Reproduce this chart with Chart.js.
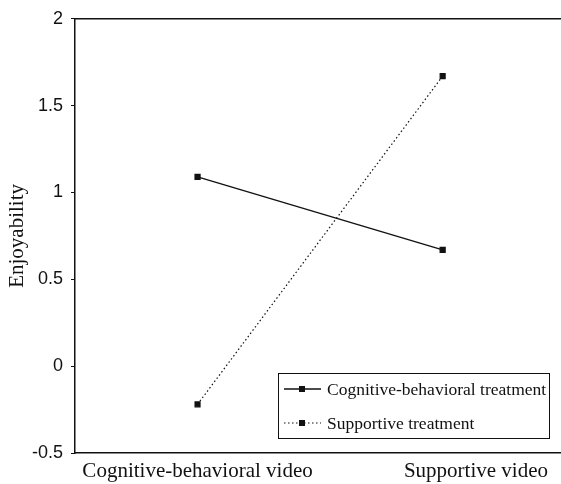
<!DOCTYPE html>
<html lang="en">
<head>
    <meta charset="UTF-8">
    <title>Enjoyability</title>
    <script src="https://cdn.jsdelivr.net/npm/chart.js"></script>
    <style>
        html, body { margin: 0; padding: 0; background: #fff; overflow: hidden; }
        .chart-box { width: 561px; height: 484px; overflow: hidden; }
    </style>
</head>
<body>
    <div class="chart-box">
        <!-- o canvas passa um pouco da borda direita, como no original recortado -->
        <canvas id="enjoyChart" width="570" height="484"></canvas>
    </div>
    <script>
        // Dados
        const videos = ['Cognitive-behavioral video', 'Supportive video'];
        const cbTreatment = [1.09, 0.67];
        const supportiveTreatment = [-0.22, 1.67];
        const seriesNames = ['Cognitive-behavioral treatment', 'Supportive treatment'];
        const yTicks = [-0.5, 0, 0.5, 1, 1.5, 2];

        const serif = '"Liberation Serif", "Times New Roman", serif';
        const viewRight = 561;

        // Borda superior, rótulos do eixo x e legenda em caixa
        const frameAndLegend = {
            id: 'frameAndLegend',
            afterDraw(chart) {
                const ctx = chart.ctx;
                const area = chart.chartArea;
                const xScale = chart.scales.x;
                ctx.save();
                ctx.strokeStyle = '#111';
                ctx.lineWidth = 1.5;
                ctx.beginPath();
                ctx.moveTo(area.left, area.top);
                ctx.lineTo(chart.width, area.top);
                ctx.stroke();

                // rótulos do eixo x; o último fica alinhado à direita
                ctx.fillStyle = '#111';
                ctx.font = '21px ' + serif;
                ctx.textAlign = 'center';
                ctx.textBaseline = 'middle';
                const labels = chart.data.labels;
                labels.forEach((lab, i) => {
                    const w = ctx.measureText(lab).width;
                    let x = xScale.getPixelForTick(i);
                    if (i === labels.length - 1) x = viewRight - 13 - w / 2;
                    ctx.fillText(lab, x, area.bottom + 18);
                });

                // caixa da legenda
                const bx = 278.5, by = 373.5, bw = 271, bh = 65;
                ctx.fillStyle = '#fff';
                ctx.fillRect(bx, by, bw, bh);
                ctx.lineWidth = 1;
                ctx.strokeRect(bx, by, bw, bh);

                ctx.font = '17.5px ' + serif;
                ctx.textAlign = 'left';
                chart.data.datasets.forEach((ds, i) => {
                    const y = 389 + i * 34;
                    ctx.strokeStyle = '#111';
                    ctx.lineWidth = ds.borderWidth;
                    ctx.setLineDash(ds.borderDash || []);
                    ctx.beginPath();
                    ctx.moveTo(284, y);
                    ctx.lineTo(321, y);
                    ctx.stroke();
                    ctx.setLineDash([]);
                    ctx.fillStyle = '#111';
                    ctx.fillRect(299, y - 3, 6, 6);
                    ctx.fillText(ds.label, 327, y + 1);
                });
                ctx.restore();
            }
        };

        const chart = new Chart(document.getElementById('enjoyChart'), {
            type: 'line',
            data: {
                labels: videos,
                datasets: [{
                    label: seriesNames[0],
                    data: cbTreatment,
                    borderColor: '#111',
                    backgroundColor: '#111',
                    borderWidth: 1.3,
                    pointStyle: 'rect',
                    pointRadius: 3.5,
                    pointHoverRadius: 3.5,
                    tension: 0
                }, {
                    label: seriesNames[1],
                    data: supportiveTreatment,
                    borderColor: '#111',
                    backgroundColor: '#111',
                    borderWidth: 1.2,
                    borderDash: [1.5, 2.5],
                    pointStyle: 'rect',
                    pointRadius: 3.5,
                    pointHoverRadius: 3.5,
                    tension: 0
                }]
            },
            options: {
                responsive: false,
                animation: false,
                events: [],
                layout: { padding: { top: 17, left: 0, right: 0, bottom: 0 } },
                plugins: {
                    legend: { display: false },
                    tooltip: { enabled: false }
                },
                scales: {
                    x: {
                        offset: true,
                        grid: { display: false, drawTicks: false },
                        border: { display: true, color: '#111', width: 1.5 },
                        ticks: { display: false },
                        afterFit(axis) { axis.height = 31; }
                    },
                    y: {
                        min: -0.5,
                        max: 2,
                        afterBuildTicks(axis) { axis.ticks = yTicks.map(v => ({ value: v })); },
                        grid: { drawOnChartArea: false, drawTicks: true, tickLength: 4, color: '#111' },
                        border: { display: true, color: '#111', width: 1.5 },
                        ticks: {
                            color: '#111',
                            padding: 8,
                            font: { family: '"Liberation Sans", Arial, sans-serif', size: 18 },
                            callback: v => String(v)
                        },
                        title: {
                            display: true,
                            text: 'Enjoyability',
                            color: '#111',
                            padding: { top: 5, bottom: 0 },
                            font: { family: serif, size: 21 }
                        },
                        afterFit(axis) { axis.width = 75; }
                    }
                }
            },
            plugins: [frameAndLegend]
        });
    </script>
</body>
</html>
